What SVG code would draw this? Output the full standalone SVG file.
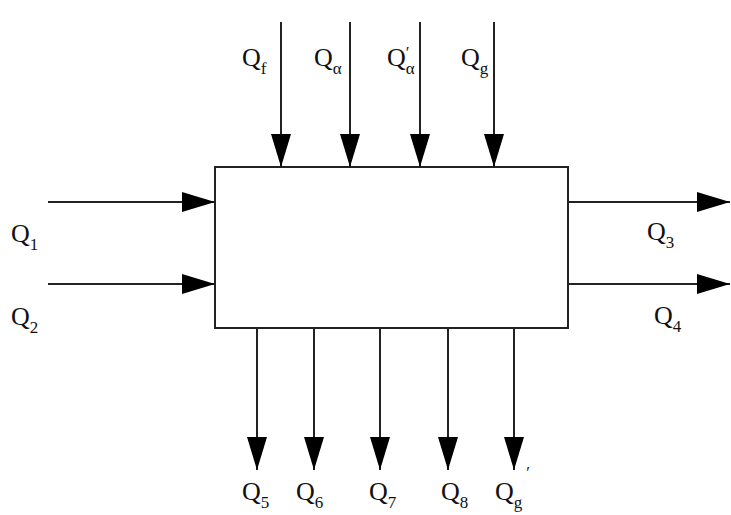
<svg xmlns="http://www.w3.org/2000/svg" width="731" height="515" viewBox="0 0 731 515">
<defs>
<marker id="ah" viewBox="0 0 33 20" refX="33" refY="10" markerWidth="33" markerHeight="20" markerUnits="userSpaceOnUse" orient="auto">
<path d="M0,0 L33,10 L0,20 Z" fill="#000"/>
</marker>
</defs>
<style>
.c{stroke:#222;stroke-width:2;fill:none;marker-end:url(#ah)}
.box{fill:#fff;stroke:#222;stroke-width:2}
text{font-family:"Liberation Serif","Times New Roman",serif;fill:#111}
.q{font-size:26px}
.s{font-size:17px}
</style>
<rect width="731" height="515" fill="#fff"/>
<g id="process">
<rect class="box" x="215" y="167" width="353" height="161"/>
</g>
<g id="connectors">
<line class="c" x1="281" y1="22" x2="281" y2="167"/>
<line class="c" x1="350" y1="22" x2="350" y2="167"/>
<line class="c" x1="420" y1="22" x2="420" y2="167"/>
<line class="c" x1="494" y1="22" x2="494" y2="167"/>
<line class="c" x1="48" y1="202" x2="215" y2="202"/>
<line class="c" x1="48" y1="284" x2="215" y2="284"/>
<line class="c" x1="568" y1="202" x2="730" y2="202"/>
<line class="c" x1="568" y1="284" x2="730" y2="284"/>
<line class="c" x1="257" y1="328" x2="257" y2="470"/>
<line class="c" x1="314" y1="328" x2="314" y2="470"/>
<line class="c" x1="380" y1="328" x2="380" y2="470"/>
<line class="c" x1="448" y1="328" x2="448" y2="470"/>
<line class="c" x1="514" y1="328" x2="514" y2="470"/>
</g>
<g id="labels">
<g id="lbl-Qf"><text class="q" x="242" y="66">Q<tspan class="s" dy="8">f</tspan></text></g>
<g id="lbl-Qa"><text class="q" x="314" y="66">Q<tspan class="s" dy="8">α</tspan></text></g>
<g id="lbl-Qa2"><text class="q" x="387" y="66">Q<tspan class="s" dy="8">α</tspan><tspan class="s" dx="-9" dy="-16">′</tspan></text></g>
<g id="lbl-Qg"><text class="q" x="461" y="66">Q<tspan class="s" dy="8">g</tspan></text></g>
<g id="lbl-Q1"><text class="q" x="11" y="242">Q<tspan class="s" dy="8">1</tspan></text></g>
<g id="lbl-Q2"><text class="q" x="11" y="325">Q<tspan class="s" dy="8">2</tspan></text></g>
<g id="lbl-Q3"><text class="q" x="647" y="240">Q<tspan class="s" dy="8">3</tspan></text></g>
<g id="lbl-Q4"><text class="q" x="654" y="324">Q<tspan class="s" dy="8">4</tspan></text></g>
<g id="lbl-Q5"><text class="q" x="242" y="500">Q<tspan class="s" dy="8">5</tspan></text></g>
<g id="lbl-Q6"><text class="q" x="296" y="500">Q<tspan class="s" dy="8">6</tspan></text></g>
<g id="lbl-Q7"><text class="q" x="369" y="500">Q<tspan class="s" dy="8">7</tspan></text></g>
<g id="lbl-Q8"><text class="q" x="441" y="500">Q<tspan class="s" dy="8">8</tspan></text></g>
<g id="lbl-Qg2"><text class="q" x="495" y="500">Q<tspan class="s" dy="8">g</tspan><tspan class="s" dx="4" dy="-30">′</tspan></text></g>
</g>
</svg>
